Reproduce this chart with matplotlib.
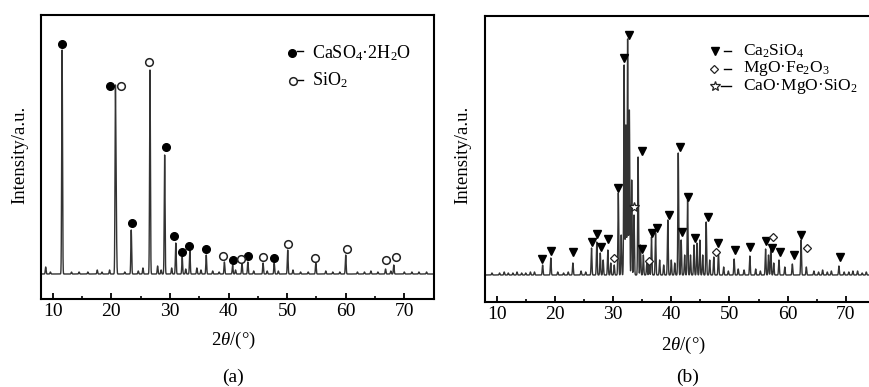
import numpy as np
import matplotlib
matplotlib.use('Agg')
import matplotlib.pyplot as plt

plt.rcParams['font.family'] = 'Liberation Serif'
plt.rcParams['mathtext.fontset'] = 'custom'
plt.rcParams['mathtext.rm'] = 'Liberation Serif'
plt.rcParams['mathtext.it'] = 'Liberation Serif:italic'

'''Data (a): gypsum residue'''

# peak positions (2theta) and heights (a.u.)
a_pos = [8.8, 9.6, 11.6, 13.2, 14.5, 16.0, 17.6, 18.4, 19.7, 20.7, 20.85, 22.3, 23.4, 24.6,
         25.4, 26.6, 27.9, 28.5, 29.1, 30.3, 31.0, 32.1, 32.7, 33.4, 34.6, 35.3, 36.2,
         37.3, 38.4, 39.3, 40.7, 41.2, 42.3, 43.3, 44.3, 45.9, 46.6, 47.8, 48.5, 50.1,
         51.0, 52.3, 53.6, 54.9, 56.6, 57.8, 59.0, 60.0, 62.0, 63.2, 64.3, 65.5, 66.8,
         67.7, 68.2, 70.0, 71.3, 72.5, 73.8]
a_int = [7, 2, 224, 2, 2, 2, 4, 2, 4, 184, 50, 2, 44, 3,
         6, 204, 8, 4, 119, 6, 31, 17, 5, 24, 6, 4, 19,
         3, 2, 12, 9, 4, 11, 12, 3, 11, 3, 11, 3, 24,
         4, 2, 2, 11, 3, 2, 2, 19, 2, 2, 3, 2, 5,
         3, 9, 2, 2, 2, 2]

# phase markers (a)
a_gyp_x = [11.6, 19.8, 23.5, 29.3, 30.7, 32.1, 33.3, 36.2, 40.7, 43.3, 47.8]
a_gyp_y = [230, 188, 51, 127, 38, 22, 28, 25, 14, 18, 16]
a_sio_x = [21.6, 26.5, 39.1, 42.1, 45.9, 50.2, 54.8, 60.2, 66.9, 68.6]
a_sio_y = [188, 212, 18, 15, 17, 30, 16, 25, 14, 17]

'''Data (b): calcined product'''

b_pos = [9.2, 10.5, 11.3, 12.0, 12.8, 13.5, 14.3, 15.0, 15.8, 16.5, 17.9, 19.3, 20.5,
         21.5, 22.3, 23.1, 24.5, 25.3, 26.3, 27.2, 27.8, 28.3, 29.1, 29.6, 30.2, 30.9,
         31.4, 31.9, 32.2, 32.5, 32.8, 33.2, 33.6, 34.3, 34.7, 35.2, 35.8, 36.2, 36.6,
         37.3, 38.0, 38.7, 39.4, 40.0, 40.6, 41.2, 41.7, 42.3, 42.8, 43.3, 43.9, 44.4,
         44.9, 45.4, 46.0, 46.6, 47.3, 48.1, 49.0, 49.8, 50.8, 51.5, 52.5, 53.5, 54.5,
         55.3, 56.2, 56.7, 57.1, 57.6, 58.5, 59.5, 60.8, 62.3, 63.2, 64.5, 65.3, 66.0,
         66.8, 67.5, 68.8, 69.7, 70.5, 71.2, 72.0, 72.8, 73.5, 74.3]
b_int = [2, 2, 3, 2, 2, 3, 2, 2, 3, 3, 10, 17, 3,
         2, 3, 12, 4, 3, 27, 33, 22, 15, 25, 12, 10, 82,
         40, 210, 150, 236, 165, 95, 60, 118, 30, 20, 12, 10, 38,
         42, 15, 10, 55, 15, 12, 122, 35, 20, 75, 20, 30, 32,
         35, 20, 53, 15, 18, 24, 8, 4, 16, 6, 5, 19, 6,
         4, 26, 20, 30, 12, 15, 8, 11, 35, 8, 4, 3, 5,
         3, 4, 9, 3, 3, 4, 4, 2, 3, 2]

b_c2s_x = [17.8, 19.3, 23.2, 26.4, 27.3, 27.9, 29.2, 30.8, 31.8, 32.7, 35.0, 35.0, 36.7,
           37.5, 39.6, 41.5, 41.9, 42.9, 44.0, 46.3, 48.1, 50.9, 53.6, 56.3, 57.3, 58.7,
           61.0, 62.3, 69.0]
b_c2s_y = [16, 24, 23, 33, 41, 28, 36, 87, 217, 240, 124, 26, 42,
           47, 60, 128, 43, 78, 37, 58, 32, 25, 28, 34, 27, 23,
           20, 40, 18]
b_mf_x = [30.2, 36.2, 47.6, 57.5, 63.4]
b_mf_y = [17, 14, 23, 38, 27]
b_cms_x = [33.6]
b_cms_y = [68]

W, H = 869, 387


def fx(x):
    return x / W


def fy(y):
    return 1 - y / H


def trace(pos, inten):
    # narrow peaks on a flat baseline
    x = np.arange(8, 75.01, 0.01)
    y = np.zeros_like(x)
    for p, h in zip(pos, inten):
        y += h * np.exp(-0.5 * ((x - p) / 0.07) ** 2)
    return x, y


fig = plt.figure(figsize=(8.69, 3.87), dpi=100)

ax1 = fig.add_axes([fx(41), fy(299), fx(433.6 - 41), (299 - 15) / H])
ax2 = fig.add_axes([fx(485), fy(302), fx(875 - 485), (302 - 16) / H])

for ax in (ax1, ax2):
    ax.set_xlim(8, 75)
    ax.set_xticks(range(10, 71, 10))
    ax.set_xticks(range(15, 76, 10), minor=True)
    ax.set_yticks([])
    ax.tick_params(axis='x', which='major', direction='in', length=4, width=1.3,
                   labelsize=14, pad=3, top=False)
    ax.tick_params(axis='x', which='minor', direction='in', length=2.5, width=1.2, top=False)
    for s in ax.spines.values():
        s.set_linewidth(1.5)

ax1.set_ylim(-25, 259)
ax2.set_ylim(-27, 259)

'''Plot (a)'''
x, y = trace(a_pos, a_int)
ax1.plot(x, y, color='#333333', lw=1.0)
ax1.plot(a_gyp_x, a_gyp_y, 'o', ms=5.5, color='black')
ax1.plot(a_sio_x, a_sio_y, 'o', ms=5.5, mfc='white', mec='#222222', mew=1.1)

'''Plot (b)'''
x, y = trace(b_pos, b_int)
ax2.plot(x, y, color='#333333', lw=1.0)
ax2.plot(b_c2s_x, b_c2s_y, 'v', ms=6, color='black')
ax2.plot(b_mf_x, b_mf_y, 'D', ms=4.5, mfc='white', mec='#222222', mew=0.9)
ax2.plot(b_cms_x, b_cms_y, '*', ms=7, mfc='white', mec='#222222', mew=0.9)

'''Legends drawn by hand'''
tf = fig.transFigure
# (a)
fig.lines.append(plt.Line2D([fx(292)], [fy(53)], marker='o', ms=5.5, color='black', transform=tf))
fig.lines.append(plt.Line2D([fx(297), fx(303)], [fy(51), fy(51)], lw=1, color='black', transform=tf))
fig.lines.append(plt.Line2D([fx(293)], [fy(81)], marker='o', ms=5.5, mfc='white', mec='#222222',
                            mew=1.1, transform=tf))
fig.lines.append(plt.Line2D([fx(298), fx(303)], [fy(80), fy(80)], lw=1, color='black', transform=tf))
fig.text(fx(312), fy(53), 'CaSO$_4$·2H$_2$O', fontsize=13, va='center', ha='left')
fig.text(fx(312), fy(80), 'SiO$_2$', fontsize=13, va='center', ha='left')
# (b)
fig.lines.append(plt.Line2D([fx(715)], [fy(51)], marker='v', ms=6, color='black', transform=tf))
fig.lines.append(plt.Line2D([fx(724), fx(731)], [fy(51), fy(51)], lw=1, color='black', transform=tf))
fig.lines.append(plt.Line2D([fx(714)], [fy(68.5)], marker='D', ms=4.5, mfc='white', mec='#222222',
                            mew=0.9, transform=tf))
fig.lines.append(plt.Line2D([fx(724), fx(731)], [fy(68.5), fy(68.5)], lw=1, color='black', transform=tf))
fig.lines.append(plt.Line2D([fx(715)], [fy(86)], marker='*', ms=7, mfc='white', mec='#222222',
                            mew=0.9, transform=tf))
fig.lines.append(plt.Line2D([fx(721), fx(731)], [fy(86), fy(86)], lw=1, color='black', transform=tf))
fig.text(fx(743), fy(51), 'Ca$_2$SiO$_4$', fontsize=12.5, va='center', ha='left')
fig.text(fx(743), fy(68.5), 'MgO·Fe$_2$O$_3$', fontsize=12.5, va='center', ha='left')
fig.text(fx(743), fy(86), 'CaO·MgO·SiO$_2$', fontsize=12.5, va='center', ha='left')

'''Axis labels and captions'''
fig.text(fx(20), fy(155), 'Intensity/a.u.', rotation=90, fontsize=13.5, ha='center', va='center')
fig.text(fx(463), fy(155), 'Intensity/a.u.', rotation=90, fontsize=13.5, ha='center', va='center')
fig.text(fx(233), fy(340), r'2$\theta$/(°)', fontsize=13.5, ha='center', va='center')
fig.text(fx(683), fy(345), r'2$\theta$/(°)', fontsize=13.5, ha='center', va='center')
fig.text(fx(233), fy(377), '(a)', fontsize=14, ha='center', va='center')
fig.text(fx(688), fy(377), '(b)', fontsize=14, ha='center', va='center')

fig.savefig('out.png', dpi=100)
